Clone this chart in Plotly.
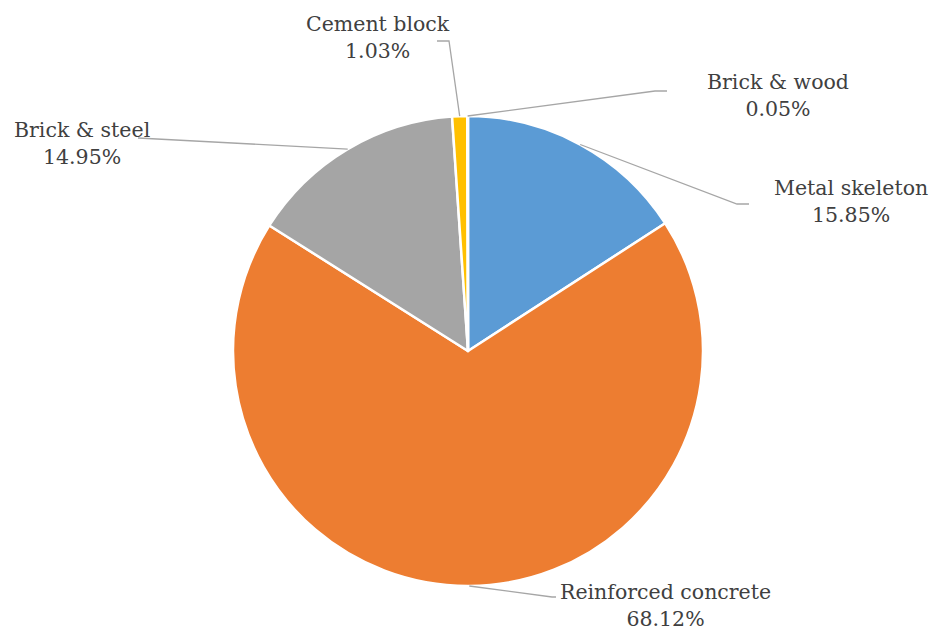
import math
import plotly.graph_objects as go

categories = ["Metal skeleton", "Reinforced concrete", "Brick & steel", "Cement block", "Brick & wood"]
shares = [15.85, 68.12, 14.95, 1.03, 0.05]
colors = ["#5B9BD5", "#ED7D31", "#A5A5A5", "#FFC000", "#4472C4"]

W, H = 936, 635
CX, CY, R = 468, 351, 235

# label centre positions (pixels) and leader-line elbow points (pixels)
label_pos = {
    "Metal skeleton": (851, 201),
    "Reinforced concrete": (665, 605),
    "Brick & steel": (82, 143),
    "Cement block": (378, 37),
    "Brick & wood": (778, 95),
}
elbows = {
    "Metal skeleton": [(737, 204), (749, 204)],
    "Reinforced concrete": [(552, 597), (556, 597)],
    "Brick & steel": [(138, 138)],
    "Cement block": [(449, 41), (437, 41)],
    "Brick & wood": [(655, 91), (667, 91)],
}

FONT = "DejaVu Serif"

fig = go.Figure()
fig.add_trace(go.Pie(
    labels=categories, values=shares, sort=False, direction="clockwise", rotation=0,
    marker=dict(colors=colors, line=dict(color="white", width=2.5)),
    textinfo="none", hoverinfo="label+percent", showlegend=False,
    domain=dict(x=[(CX - R) / W, (CX + R) / W], y=[(H - CY - R) / H, (H - CY + R) / H]),
))

total = sum(shares)
cum = 0.0
shapes = []
annotations = []
for cat, v in zip(categories, shares):
    mid = (cum + v / 2) / total * 2 * math.pi
    cum += v
    sx = CX + R * math.sin(mid)
    sy = CY - R * math.cos(mid)
    pts = [(sx, sy)] + elbows[cat]
    path = "M " + " L ".join(f"{x:.1f},{y:.1f}" for x, y in pts)
    shapes.append(dict(type="path", path=path, xref="x", yref="y",
                       line=dict(color="#A6A6A6", width=1.3), layer="above"))
    lx, ly = label_pos[cat]
    annotations.append(dict(x=lx, y=ly, xref="x", yref="y", showarrow=False,
                            text=f"{cat}<br>{v:.2f}%", align="center",
                            font=dict(family=FONT, size=20.5, color="#404040")))

fig.update_layout(
    width=W, height=H, margin=dict(l=0, r=0, t=0, b=0),
    paper_bgcolor="white", plot_bgcolor="rgba(0,0,0,0)",
    font=dict(family=FONT),
    xaxis=dict(range=[0, W], visible=False, fixedrange=True),
    yaxis=dict(range=[H, 0], visible=False, fixedrange=True),
    shapes=shapes, annotations=annotations,
)
fig.write_html("out.html", config={"displayModeBar": False},
               post_script="document.body.style.margin='0px';document.body.style.overflow='hidden';")
